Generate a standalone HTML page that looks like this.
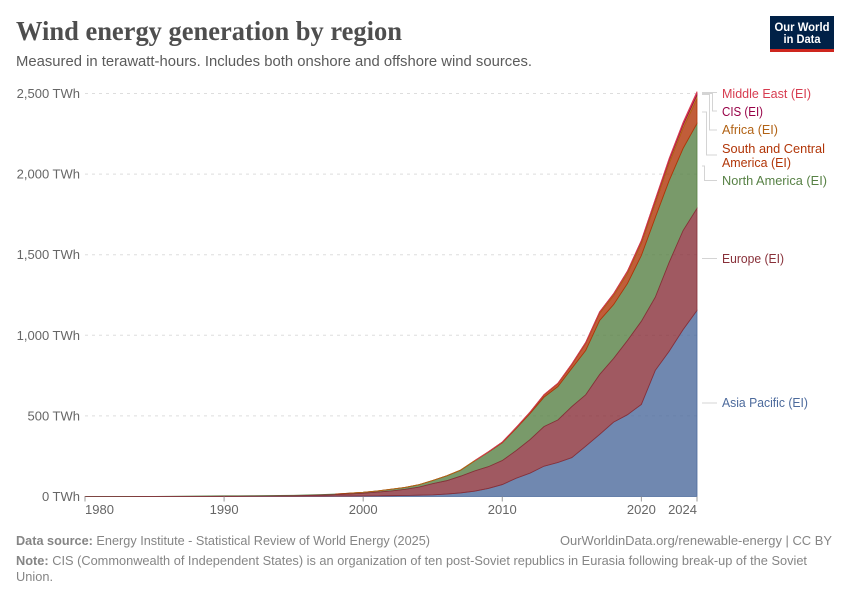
<!DOCTYPE html>
<html lang="en">
<head>
<meta charset="utf-8">
<title>Wind energy generation by region</title>
<style>
html,body{margin:0;padding:0;background:#fff;}
svg{display:block;font-family:"Liberation Sans",sans-serif;}
</style>
</head>
<body>
<svg id="chart" xmlns="http://www.w3.org/2000/svg" width="850" height="600" viewBox="0 0 850 600">
  <rect width="850" height="600" fill="#fff"/>
  <text x="16" y="40" font-family="'Liberation Serif',serif" font-weight="700" font-size="27" fill="#4e4e4e" textLength="386" lengthAdjust="spacingAndGlyphs">Wind energy generation by region</text>
  <text x="16" y="66" font-size="14.5" fill="#5b5b5b" textLength="516" lengthAdjust="spacingAndGlyphs">Measured in terawatt-hours. Includes both onshore and offshore wind sources.</text>
  <g>
    <rect x="770" y="16" width="64" height="36" fill="#002147"/>
    <rect x="770" y="49" width="64" height="3" fill="#ce261e"/>
    <text x="802" y="31" text-anchor="middle" font-size="12" font-weight="700" fill="#fff" textLength="55" lengthAdjust="spacingAndGlyphs">Our World</text>
    <text x="802" y="43" text-anchor="middle" font-size="12" font-weight="700" fill="#fff" textLength="37" lengthAdjust="spacingAndGlyphs">in Data</text>
  </g>
  <g id="grid"></g>
  <g id="yLabels"></g>
  <g id="areas"></g>
  <g id="xAxis"></g>
  <g fill="none" stroke="#d4d4d4" stroke-width="1">
    <path d="M702 92.5H717"/>
    <path d="M702 93.5H712.5V111H717"/>
    <path d="M702 94.5H709.5V130H717"/>
    <path d="M702 112H706.5V155H717"/>
    <path d="M702 166H704.5V180.500H717"/>
    <path d="M702 258.500H717"/>
    <path d="M702 403H717"/>
  </g>
  <g font-size="13">
    <text x="722" y="98" fill="#d73c50" textLength="89" lengthAdjust="spacingAndGlyphs">Middle East (EI)</text>
    <text x="722" y="116" fill="#970046" textLength="41" lengthAdjust="spacingAndGlyphs">CIS (EI)</text>
    <text x="722" y="134" fill="#b16214" textLength="56" lengthAdjust="spacingAndGlyphs">Africa (EI)</text>
    <text x="722" y="153" fill="#b13507" textLength="103" lengthAdjust="spacingAndGlyphs">South and Central</text>
    <text x="722" y="167" fill="#b13507" textLength="69" lengthAdjust="spacingAndGlyphs">America (EI)</text>
    <text x="722" y="185" fill="#578145" textLength="105" lengthAdjust="spacingAndGlyphs">North America (EI)</text>
    <text x="722" y="263" fill="#883039" textLength="62" lengthAdjust="spacingAndGlyphs">Europe (EI)</text>
    <text x="722" y="407" fill="#4c6a9c" textLength="86" lengthAdjust="spacingAndGlyphs">Asia Pacific (EI)</text>
  </g>
  <g font-size="13" fill="#858585">
    <text x="16" y="545" textLength="414" lengthAdjust="spacingAndGlyphs"><tspan font-weight="700">Data source:</tspan> Energy Institute - Statistical Review of World Energy (2025)</text>
    <text x="560" y="545" textLength="272" lengthAdjust="spacingAndGlyphs">OurWorldinData.org/renewable-energy | CC BY</text>
    <text x="16" y="565" textLength="791" lengthAdjust="spacingAndGlyphs"><tspan font-weight="700">Note:</tspan> CIS (Commonwealth of Independent States) is an organization of ten post-Soviet republics in Eurasia following break-up of the Soviet</text>
    <text x="16" y="581" textLength="37" lengthAdjust="spacingAndGlyphs">Union.</text>
  </g>
</svg>
<script>
const firstYear = 1980;
const lastYear = 2024;
const yTickValues = [0, 500, 1000, 1500, 2000, 2500];
const yTickLabels = ["0 TWh", "500 TWh", "1,000 TWh", "1,500 TWh", "2,000 TWh", "2,500 TWh"];
const xTickYears = [1980, 1990, 2000, 2010, 2020, 2024];
const regionNames = ["asia-pacific", "europe", "north-america", "south-central-america", "africa", "cis", "middle-east"];
const regionColors = ["#4c6a9c", "#883039", "#578145", "#b13507", "#b16214", "#970046", "#d73c50"];

const asiaPacific = [
  0.01,0.01,0.02,0.03,0.05,0.1,0.15,0.2,0.25,0.3,
  0.4,0.5,0.6,0.8,1,1.2,1.5,1.9,2.3,2.7,
  3.2,4,5,6,8,10,15,22,33,50,
  74,113,145,188,211,241,312,385,461,507,
  571,782,901,1035,1154];
const europe = [
  0.03,0.05,0.1,0.15,0.2,0.3,0.4,0.5,0.6,0.7,
  0.8,1,1.3,1.7,2.5,3.5,5,7,9.5,13,
  17,23,29,38,50,70,83,104,125,135,
  149,172,208,246,264,317,319,372,395,461,
  516,454,552,615,633];
const northAmerica = [
  0.01,0.02,0.05,0.1,0.25,0.6,1.2,1.6,2,2.5,
  3,3.1,3.2,3.2,3.3,3.2,3.4,3.6,3.9,5,
  6,7,11,12,15,19,30,37,62,90,
  110,137,162,182,207,237,275,335,334,353,
  408,494,507,509,527];
const southCentralAmerica = [
  0,0,0,0,0,0,0,0,0,0,
  0,0,0,0,0,0,0,0,0,0.1,
  0.1,0.1,0.1,0.2,0.2,0.3,0.4,0.6,0.9,1.5,
  3.5,5,7,13,17,22,44,45,55,62,
  74,88,107,126,155];
const africa = [
  0,0,0,0,0,0,0,0,0,0,
  0,0,0,0,0,0,0,0,0,0,
  0.2,0.3,0.3,0.4,0.5,0.5,0.6,0.8,0.9,1,
  1,1.3,2,2.5,3.5,5,6,8,12,14,
  16,19,20,21,22];
const cis = [
  0,0,0,0,0,0,0,0,0,0,
  0,0,0,0,0,0,0,0,0,0,
  0,0,0,0,0,0,0,0,0,0,
  0.1,0.1,0.1,0.2,0.2,0.2,0.3,0.3,0.5,1,
  3,5,7,9,11];
const middleEast = [
  0,0,0,0,0,0,0,0,0,0,
  0,0,0,0,0,0,0,0,0,0,
  0,0,0,0,0,0,0,0,0,0.1,
  0.1,0.1,0.2,0.2,0.3,0.4,0.4,0.5,0.8,1,
  1.5,3,5,7,10];

const regionSeries = [asiaPacific, europe, northAmerica, southCentralAmerica, africa, cis, middleEast];
const drawOrder = [0, 2, 1, 3, 4, 5, 6];

const SVG_NS = "http://www.w3.org/2000/svg";
function xScale(year) { return 85 + (year - firstYear) * (697 - 85) / (lastYear - firstYear); }
function yScale(value) { return 496.5 - value * (496.5 - 93.5) / 2500; }

const gridGroup = document.getElementById("grid");
const yLabelGroup = document.getElementById("yLabels");
yTickValues.forEach(function (value, i) {
  if (value > 0) {
    const line = document.createElementNS(SVG_NS, "line");
    
    
    line.setAttribute("x1", 85);
    line.setAttribute("x2", 697);
    line.setAttribute("y1", yScale(value));
    line.setAttribute("y2", yScale(value));
    line.setAttribute("stroke", "#dddddd");
    line.setAttribute("stroke-dasharray", "3,4");
    gridGroup.appendChild(line);
  }
  const label = document.createElementNS(SVG_NS, "text");
  
  
  label.setAttribute("x", 80);
  label.setAttribute("y", yScale(value) + 4.5);
  label.setAttribute("text-anchor", "end");
  label.setAttribute("font-size", "13");
  label.setAttribute("fill", "#666666");
  label.textContent = yTickLabels[i];
  yLabelGroup.appendChild(label);
});

const areaGroup = document.getElementById("areas");
const years = asiaPacific.map(function (_, i) { return firstYear + i; });
const bottoms = [];
const tops = [];
const runningTotal = years.map(function () { return 0; });
regionSeries.forEach(function (series, s) {
  bottoms[s] = runningTotal.slice();
  series.forEach(function (v, i) { runningTotal[i] += v; });
  tops[s] = runningTotal.slice();
});

drawOrder.forEach(function (s) {
  const series = regionSeries[s];
  let start = series.findIndex(function (v) { return v > 0; });
  start = Math.max(0, start - 1);
  let d = "";
  for (let i = start; i < years.length; i++) {
    d += (i === start ? "M" : "L") + xScale(years[i]).toFixed(2) + " " + yScale(tops[s][i]).toFixed(2);
  }
  for (let i = years.length - 1; i >= start; i--) {
    d += "L" + xScale(years[i]).toFixed(2) + " " + yScale(bottoms[s][i]).toFixed(2);
  }
  d += "Z";
  const area = document.createElementNS(SVG_NS, "path");
  
  
  area.setAttribute("d", d);
  area.setAttribute("fill", regionColors[s]);
  area.setAttribute("fill-opacity", "0.8");
  area.setAttribute("stroke", regionColors[s]);
  area.setAttribute("stroke-width", "0.8");
  areaGroup.appendChild(area);
});

const xAxisGroup = document.getElementById("xAxis");
xTickYears.forEach(function (year) {
  const tick = document.createElementNS(SVG_NS, "line");
  
  
  tick.setAttribute("x1", xScale(year));
  tick.setAttribute("x2", xScale(year));
  tick.setAttribute("y1", 496.5);
  tick.setAttribute("y2", 501.5);
  tick.setAttribute("stroke", "#999999");
  xAxisGroup.appendChild(tick);
  const label = document.createElementNS(SVG_NS, "text");
  
  
  label.setAttribute("x", xScale(year));
  label.setAttribute("y", 514);
  label.setAttribute("text-anchor", year === firstYear ? "start" : (year === lastYear ? "end" : "middle"));
  label.setAttribute("font-size", "13");
  label.setAttribute("fill", "#666666");
  label.textContent = String(year);
  xAxisGroup.appendChild(label);
});
</script>
</body>
</html>
